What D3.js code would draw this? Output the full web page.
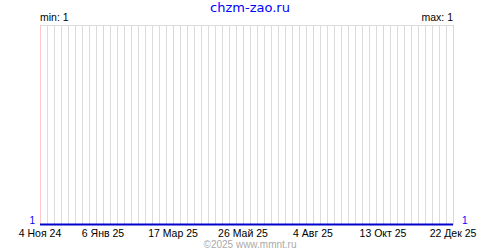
<!DOCTYPE html>
<html><head><meta charset="utf-8">
<script src="https://cdn.jsdelivr.net/npm/d3@7"></script>
<style>body{margin:0;background:#fff}svg{display:block}</style>
</head><body>
<script>
const title = "chzm-zao.ru";
const credit = "©2025 www.mmnt.ru";
const seriesDates = ["2024-11-04", "2025-12-22"];
const seriesValues = [1, 1];
const tickDates = ["2024-11-04", "2025-01-06", "2025-03-17", "2025-05-26", "2025-08-04", "2025-10-13", "2025-12-22"];
const tickLabels = ["4 Ноя 24", "6 Янв 25", "17 Мар 25", "26 Май 25", "4 Авг 25", "13 Окт 25", "22 Дек 25"];
const minLabel = "min: 1", maxLabel = "max: 1";
const leftValue = "1", rightValue = "1";

const W = 500, H = 250;
const m = {l: 40, r: 47, t: 25, b: 25};
const parse = d3.utcParse("%Y-%m-%d");
const svg = d3.select("body").append("svg").attr("width", W).attr("height", H);

const x = d3.scaleUtc().domain([parse(seriesDates[0]), parse(seriesDates[1])]).range([m.l, W - m.r]);
const y = d3.scaleLinear().domain([1, 2]).range([H - m.b, m.t]);

const tickSet = new Set(tickDates.map(d => +parse(d)));
const weeks = d3.utcMonday.range(parse(seriesDates[0]), d3.utcDay.offset(parse(seriesDates[1]), 1))
  .filter(d => !tickSet.has(+d));
const font = "'Liberation Sans', Arial, sans-serif";

svg.append("g").selectAll("line").data(weeks).join("line")
  .attr("x1", d => Math.round(x(d)) + 0.5).attr("x2", d => Math.round(x(d)) + 0.5)
  .attr("y1", m.t).attr("y2", H - m.b).attr("stroke", "#dcdcdc");
svg.append("line").attr("x1", m.l).attr("x2", W - m.r + 1).attr("y1", m.t + 0.5).attr("y2", m.t + 0.5).attr("stroke", "#dcdcdc");
svg.append("g").selectAll("line").data(tickDates).join("line")
  .attr("x1", d => Math.round(x(parse(d))) + 0.5).attr("x2", d => Math.round(x(parse(d))) + 0.5)
  .attr("y1", m.t).attr("y2", H - m.b).attr("stroke", "#ffc8c8");

const pts = seriesDates.map((d, i) => ({d: parse(d), v: seriesValues[i]}));
svg.append("path").datum(pts)
  .attr("d", d3.line().x(p => x(p.d)).y(p => Math.round(y(p.v)) - 0.5))
  .attr("fill", "none").attr("stroke", "#0000cc").attr("stroke-width", 2);

svg.append("g").selectAll("text").data(tickDates).join("text")
  .attr("x", d => x(parse(d))).attr("y", 236.5).attr("text-anchor", "middle")
  .attr("font-family", font).attr("font-size", 10.5).attr("fill", "#000")
  .text((d, i) => tickLabels[i]);

svg.append("text").attr("x", W / 2).attr("y", 12).attr("text-anchor", "middle")
  .attr("font-family", "'DejaVu Sans', Verdana, sans-serif").attr("font-size", 13).attr("fill", "#0000ff").text(title);
svg.append("text").attr("x", m.l).attr("y", 21).attr("font-family", font).attr("font-size", 10.5).text(minLabel);
svg.append("text").attr("x", W - m.r).attr("y", 21).attr("text-anchor", "end").attr("font-family", font).attr("font-size", 10.5).text(maxLabel);
svg.append("text").attr("x", 35).attr("y", 224).attr("text-anchor", "end").attr("font-family", font).attr("font-size", 10).attr("fill", "#0000ff").text(leftValue);
svg.append("text").attr("x", W - m.r + 9).attr("y", 224).attr("font-family", font).attr("font-size", 10).attr("fill", "#0000ff").text(rightValue);
svg.append("text").attr("x", W / 2).attr("y", 248).attr("text-anchor", "middle")
  .attr("font-family", font).attr("font-size", 10).attr("fill", "#aaaaaa").text(credit);
</script>
</body></html>
